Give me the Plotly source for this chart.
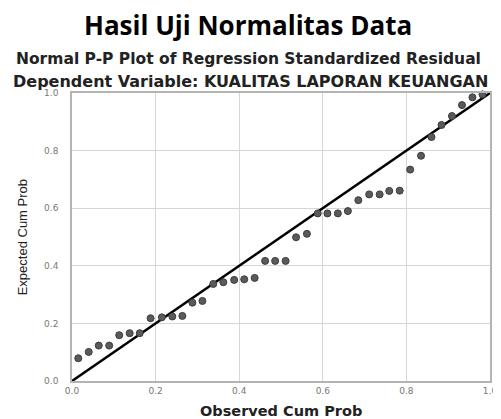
import plotly.graph_objects as go

observed = [0.015, 0.040, 0.064, 0.089, 0.113, 0.138, 0.162, 0.188, 0.215, 0.240,
            0.264, 0.288, 0.312, 0.338, 0.362, 0.388, 0.412, 0.437, 0.462, 0.486,
            0.511, 0.536, 0.562, 0.588, 0.611, 0.636, 0.660, 0.685, 0.711, 0.736,
            0.759, 0.784, 0.809, 0.835, 0.860, 0.884, 0.909, 0.933, 0.958, 0.982]
expected = [0.079, 0.101, 0.123, 0.123, 0.159, 0.166, 0.166, 0.218, 0.221, 0.224,
            0.226, 0.272, 0.278, 0.337, 0.343, 0.351, 0.353, 0.358, 0.417, 0.417,
            0.417, 0.499, 0.511, 0.582, 0.582, 0.582, 0.590, 0.628, 0.648, 0.648,
            0.660, 0.661, 0.734, 0.782, 0.847, 0.889, 0.920, 0.958, 0.985, 0.995]
diag = [0.0, 1.0]
ticks = [0.0, 0.2, 0.4, 0.6, 0.8, 1.0]
tick_text = ["0.0", "0.2", "0.4", "0.6", "0.8", "1.0"]

# page body has an 8px margin; plot area in window pixels: x 72..497, y 93..381
fig = go.Figure()
fig.add_trace(go.Scatter(x=diag, y=diag, mode="lines",
                         line=dict(color="black", width=2.5),
                         hoverinfo="skip", cliponaxis=False))
fig.add_trace(go.Scatter(x=observed, y=expected, mode="markers",
                         marker=dict(size=7, color="#5a5a5a",
                                     line=dict(color="#3c3c3c", width=1)),
                         cliponaxis=False))

axis_common = dict(range=[0, 1], tickvals=ticks, ticktext=tick_text,
                   showgrid=True, gridcolor="#d6d6d6", gridwidth=1,
                   showline=True, linecolor="#b4b4b4", linewidth=1.5, mirror=True,
                   zeroline=False,
                   tickfont=dict(family="DejaVu Sans", size=9, color="#777777"))

fig.update_layout(
    width=501, height=411,
    margin=dict(l=64, r=12, t=85, b=38),
    paper_bgcolor="white", plot_bgcolor="white",
    showlegend=False,
    xaxis=dict(**axis_common, ticks=""),
    yaxis=dict(**axis_common, ticks="outside", ticklen=10,
               tickcolor="rgba(0,0,0,0)"),
)

def xp(px):
    return (px - 72) / 425

def yp(py):
    return (381 - py) / 288

fig.add_annotation(text="<b>Hasil Uji Normalitas Data</b>", x=xp(251), xref="paper",
                   y=yp(25), yref="paper", showarrow=False, yanchor="middle",
                   xanchor="center",
                   font=dict(family="Open Sans", size=26, color="black"))
fig.add_annotation(text="<b>Normal P-P Plot of Regression Standardized Residual</b>",
                   x=xp(251), xref="paper", y=yp(59), yref="paper",
                   showarrow=False, yanchor="middle", xanchor="center",
                   font=dict(family="DejaVu Sans", size=15.5, color="#222222"))
fig.add_annotation(text="<b>Dependent Variable: KUALITAS LAPORAN KEUANGAN</b>",
                   x=xp(253), xref="paper", y=yp(81.5), yref="paper",
                   showarrow=False, yanchor="middle", xanchor="center",
                   font=dict(family="DejaVu Sans", size=16, color="#222222"))
fig.add_annotation(text="<b>Observed Cum Prob</b>",
                   x=xp(284), xref="paper", y=yp(410.5), yref="paper",
                   showarrow=False, yanchor="middle", xanchor="center",
                   font=dict(family="DejaVu Sans", size=14.5, color="#222222"))
fig.add_annotation(text="Expected Cum Prob", textangle=-90,
                   x=xp(22), xref="paper", y=yp(237.5), yref="paper",
                   showarrow=False, yanchor="middle", xanchor="center",
                   font=dict(family="Liberation Sans", size=13, color="#222222"))

fig.write_html("out.html")
